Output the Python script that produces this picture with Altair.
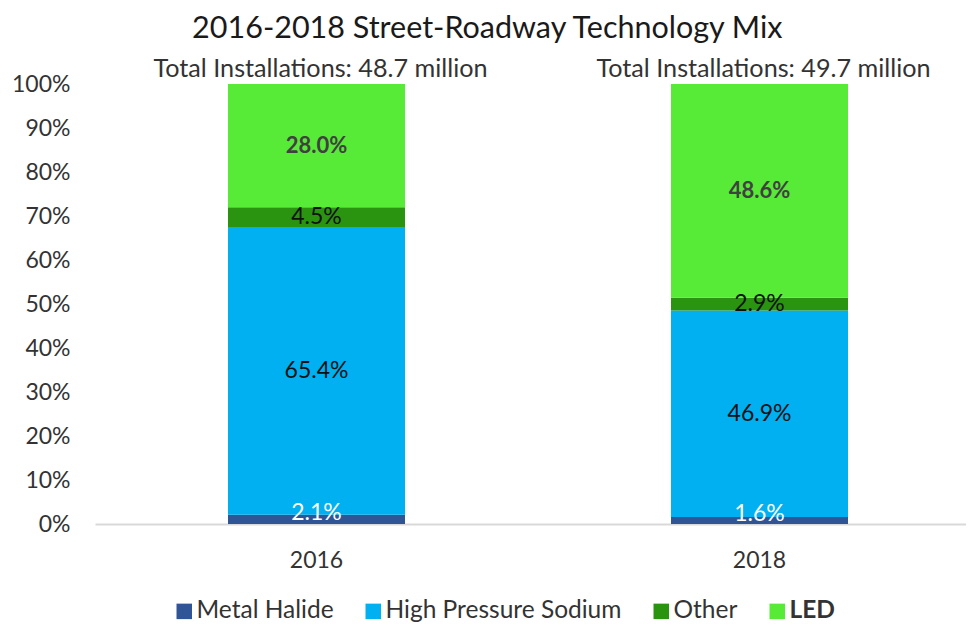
import altair as alt
import pandas as pd

years = ["2016", "2018"]
techs = ["Metal Halide", "High Pressure Sodium", "Other", "LED"]
share_2016 = [2.1, 65.4, 4.5, 28.0]
share_2018 = [1.6, 46.9, 2.9, 48.6]
totals = ["48.7", "49.7"]
colors = ["#2F5597", "#00B0F0", "#2A9410", "#57EB37"]
label_colors = ["#FFFFFF", "#111111", "#111111", "#404040"]
y_ticks = list(range(0, 101, 10))

rows = []
for yr, shares in zip(years, [share_2016, share_2018]):
    for i, (t, v) in enumerate(zip(techs, shares)):
        rows.append({"year": yr, "tech": t, "value": v, "order": i})
df = pd.DataFrame(rows)
ann = pd.DataFrame({"year": years,
                    "label": [f"Total Installations: {t} million" for t in totals]})

FONT = "Lato"
TXT = "#333333"

# x band range runs slightly past the view, like the reference's axis line
x_enc = alt.X("year:N",
              scale=alt.Scale(paddingInner=0, paddingOuter=0, range=[0, 886]),
              axis=alt.Axis(title=None, labelAngle=0, ticks=False,
                            domainColor="#D9D9D9", domainWidth=2,
                            labelFontSize=23, labelColor=TXT,
                            labelPadding=25, labelFont=FONT))

y_scale = alt.Scale(domain=[0, 100], nice=False)

base = alt.Chart(df)
bars = base.mark_bar(size=177).encode(
    x=x_enc,
    y=alt.Y("value:Q", stack="zero", scale=y_scale,
            axis=alt.Axis(title=None, values=y_ticks,
                          labelExpr="datum.value + '%'", grid=False,
                          domain=False, ticks=False, labelFontSize=23,
                          labelColor=TXT, labelPadding=25, labelFont=FONT)),
    color=alt.Color("tech:N", scale=alt.Scale(domain=techs, range=colors),
                    legend=alt.Legend(
                        title=None, orient="none", legendX=77, legendY=515,
                        direction="horizontal", symbolType="square",
                        symbolSize=240, symbolStrokeWidth=0,
                        labelFontSize=24.5, labelFont=FONT, labelColor=TXT,
                        columnPadding=27, labelOffset=0, padding=0,
                        labelLimit=0,
                        labelFontWeight=alt.ExprRef(
                            "datum.label == 'LED' ? 'bold' : 'normal'"))),
    order=alt.Order("order:Q", sort="ascending"),
)

lab_base = base.transform_window(
    cum="sum(value)", sort=[alt.SortField("order")], groupby=["year"],
    frame=[None, 0]
).transform_calculate(
    mid="datum.cum - datum.value / 2",
    lab="format(datum.value, '.1f') + '%'"
)

text_layers = []
for t, c in zip(techs, label_colors):
    dy = -6 if t == "Metal Halide" else 0
    weight = "bold" if t == "LED" else "normal"
    size = 22 if t == "LED" else 23
    text_layers.append(
        lab_base.transform_filter(alt.datum.tech == t).mark_text(
            font=FONT, fontSize=size, color=c, fontWeight=weight,
            baseline="middle", align="center", dy=dy
        ).encode(x="year:N", y=alt.Y("mid:Q", scale=y_scale), text="lab:N")
    )

annot = alt.Chart(ann).mark_text(
    font=FONT, fontSize=25.2, color=TXT, baseline="middle", align="center", dx=4
).encode(x="year:N", y=alt.value(-15), text="label:N")

chart = alt.layer(bars, *text_layers, annot).properties(
    width=871, height=440,
    title=alt.Title("2016-2018 Street-Roadway Technology Mix", fontSize=30.5,
                    font=FONT, fontWeight="normal", color="#1A1A1A",
                    anchor="middle", frame="bounds", offset=13, dx=-9),
    autosize=alt.AutoSizeParams(type="none"),
    padding={"left": 87, "top": 76, "right": 0, "bottom": 99},
).configure_view(stroke=None)

chart.save("out.html", embed_options={"renderer": "svg", "actions": False})
